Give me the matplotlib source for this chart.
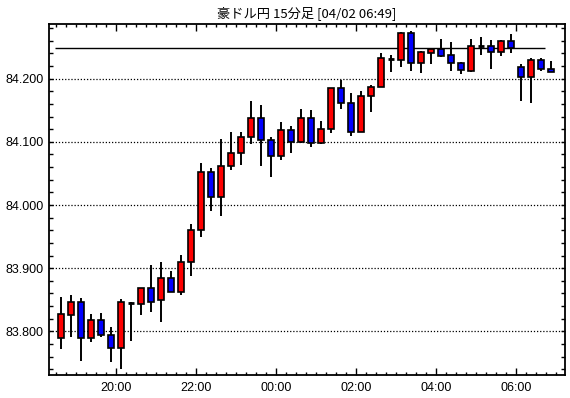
import pandas as pd
import matplotlib
matplotlib.use("Agg")
import matplotlib.pyplot as plt
import matplotlib.dates as mdates
from matplotlib.ticker import MultipleLocator

# 15-minute AUD/JPY candles, 18:30 -> 06:45
start_time = "2024-04-01 18:30"
opens = [83.790, 83.826, 83.846, 83.789, 83.818, 83.795, 83.773, 83.845, 83.844, 83.868,
         83.849, 83.884, 83.863, 83.910, 83.960, 84.052, 84.012, 84.062, 84.083, 84.108,
         84.138, 84.103, 84.078, 84.119, 84.099, 84.137, 84.098, 84.120, 84.185, 84.162,
         84.115, 84.172, 84.186, 84.231, 84.229, 84.272, 84.225, 84.241, 84.247, 84.237,
         84.224, 84.212, 84.252, 84.251, 84.2425, 84.259, 84.219, 84.203, 84.230, 84.216]
highs = [83.855, 83.858, 83.853, 83.827, 83.829, 83.807, 83.851, 83.846, 83.868, 83.905,
         83.910, 83.896, 83.921, 83.970, 84.067, 84.058, 84.104, 84.116, 84.115, 84.164,
         84.158, 84.108, 84.132, 84.125, 84.152, 84.150, 84.133, 84.185, 84.198, 84.178,
         84.181, 84.190, 84.240, 84.238, 84.274, 84.275, 84.243, 84.249, 84.2625, 84.258,
         84.227, 84.2625, 84.2655, 84.261, 84.2605, 84.270, 84.223, 84.232, 84.232, 84.2275]
lows = [83.772, 83.791, 83.753, 83.783, 83.791, 83.752, 83.741, 83.785, 83.826, 83.831,
        83.815, 83.863, 83.857, 83.887, 83.949, 83.990, 83.982, 84.055, 84.064, 84.097,
        84.061, 84.045, 84.072, 84.083, 84.098, 84.092, 84.096, 84.114, 84.152, 84.109,
        84.115, 84.147, 84.186, 84.210, 84.218, 84.212, 84.209, 84.2235, 84.2345, 84.212,
        84.208, 84.211, 84.2375, 84.2155, 84.236, 84.240, 84.165, 84.162, 84.212, 84.211]
closes = [83.827, 83.846, 83.789, 83.818, 83.795, 83.773, 83.846, 83.845, 83.868, 83.847,
          83.884, 83.863, 83.910, 83.960, 84.052, 84.012, 84.062, 84.083, 84.108, 84.138,
          84.103, 84.078, 84.119, 84.099, 84.137, 84.098, 84.120, 84.185, 84.162, 84.115,
          84.172, 84.186, 84.232, 84.231, 84.272, 84.224, 84.2415, 84.247, 84.236, 84.224,
          84.213, 84.251, 84.252, 84.2425, 84.2595, 84.248, 84.203, 84.230, 84.2155, 84.211]
ref_level = 84.248
title = "豪ドル円 15分足 [04/02 06:49]"

bar = pd.Timedelta(minutes=15)
times = pd.date_range(start_time, periods=len(opens), freq="15min") + bar / 2
x = mdates.date2num(times.to_pydatetime())
day = 1 / 96.0  # 15 min in days

fig = plt.figure(figsize=(5.7, 3.98), dpi=100)
ax = fig.add_axes([49 / 570, 23 / 398, 516 / 570, 350.7 / 398])

# wicks
ax.vlines(x, lows, highs, color="black", linewidth=1.4, zorder=2)

# bodies
for xi, o, h, l, c in zip(x, opens, highs, lows, closes):
    if abs(c - o) < 0.0008:
        ax.hlines(o, xi - 0.34 * day, xi + 0.34 * day, color="black", linewidth=2, zorder=3)
        continue
    col = "#ff0000" if c > o else "#0000ff"
    ax.bar(xi, abs(c - o), bottom=min(o, c), width=0.68 * day, color=col,
           edgecolor="black", linewidth=1.2, zorder=3)

# reference line
t0 = mdates.date2num(pd.Timestamp(start_time).to_pydatetime())
ax.hlines(ref_level, t0 - 0.05 * day, t0 + 48.9 * day, color="black", linewidth=1, zorder=1)

ax.set_xlim(t0 - 0.7 * day, t0 + 50.9 * day)
ax.set_ylim(83.731, 84.286)

ax.xaxis.set_major_locator(mdates.HourLocator(byhour=range(0, 24, 2)))
ax.xaxis.set_minor_locator(mdates.MinuteLocator(byminute=[0, 15, 30, 45]))
ax.xaxis.set_major_formatter(mdates.DateFormatter("%H:%M"))
ax.yaxis.set_major_locator(MultipleLocator(0.1))
ax.yaxis.set_minor_locator(MultipleLocator(0.02))
ax.yaxis.set_major_formatter(plt.FuncFormatter(lambda v, p: f"{v:.3f}"))

ax.tick_params(axis="both", which="both", direction="in", top=True, right=True,
               colors="black", labelsize=9)
ax.tick_params(axis="x", which="major", length=5, width=1, pad=5)
ax.tick_params(axis="x", which="minor", length=2.5, width=1)
ax.tick_params(axis="y", which="major", length=3, width=1, pad=4)
ax.tick_params(axis="y", which="minor", length=3, width=1)
for lab in ax.get_xticklabels() + ax.get_yticklabels():
    lab.set_family(["Liberation Sans", "DejaVu Sans"])

ax.grid(axis="y", which="major", linestyle=(0, (1, 1.5)), color="black", linewidth=0.9)
ax.set_axisbelow(True)
for s in ax.spines.values():
    s.set_linewidth(1.3)

ax.set_title(title, fontsize=9.5, family=["Noto Sans CJK JP", "DejaVu Sans"], pad=5)

fig.savefig("out.png", dpi=100)
